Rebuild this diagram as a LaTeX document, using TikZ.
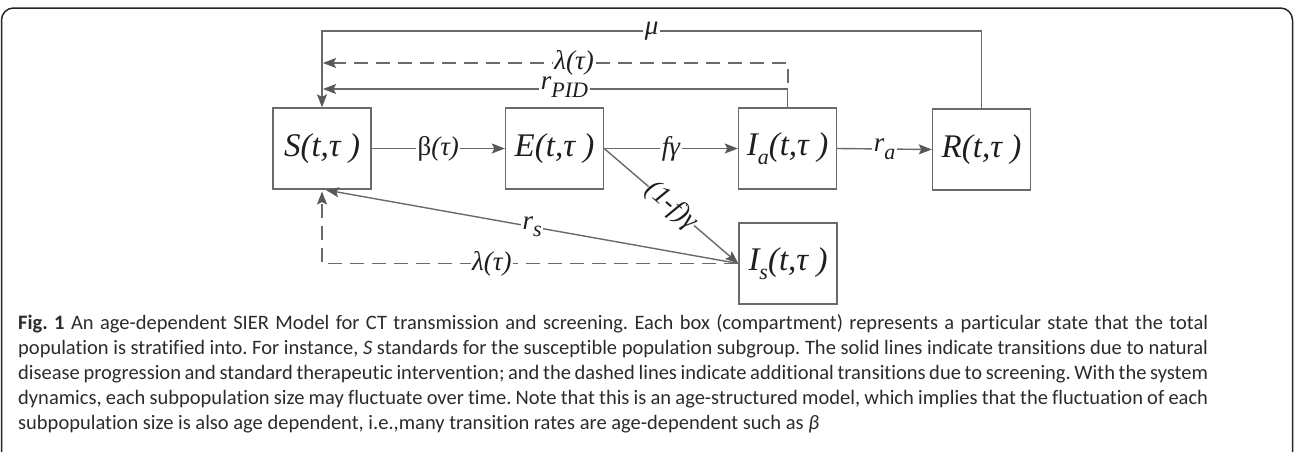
\documentclass[tikz,border=0pt]{standalone}
\usepackage{fontspec}
\setmainfont{Liberation Serif}
\newfontfamily\tms{Liberation Serif}
\newfontfamily\capfont[Ligatures=NoCommon]{Carlito}
\usetikzlibrary{arrows.meta}
\definecolor{lc}{HTML}{6A6A6A}
\definecolor{ac}{HTML}{585858}
\definecolor{tc}{HTML}{1E1E1E}
\definecolor{cc}{HTML}{2B2B2B}
\newcommand{\subx}[1]{\raisebox{-0.28em}{\fontsize{22}{22}\selectfont #1}}
\frenchspacing
\begin{document}
\begin{tikzpicture}[x=1pt,y=-1pt,
  box/.style={draw=lc, line width=1.4pt, minimum width=98pt, minimum height=81pt,
    inner sep=0pt, font=\tms\fontsize{33}{33}\selectfont\itshape, text=tc},
  conn/.style={draw=lc, line width=1.4pt, -{Stealth[length=13pt,width=10pt,inset=2.5pt,color=ac]}},
  dconn/.style={conn, dash pattern=on 14pt off 8pt},
  lab/.style={fill=white, inner sep=1.5pt, font=\tms\fontsize{27}{27}\selectfont\itshape, text=tc},
  frame/.style={draw=black!85, line width=1.5pt, rounded corners=12pt},
]
\useasboundingbox (0,0) rectangle (1295,451);
% outer frame
\coordinate (fBL) at (1.5,470);
\coordinate (fTL) at (1.5,8);
\coordinate (fTR) at (1292.5,8);
\coordinate (fBR) at (1292.5,470);
\draw[frame] (fBL) -- (fTL) -- (fTR) -- (fBR);

% compartments
\node[box] (S)  at (322,148.5)   {S(t,τ )};
\node[box] (E)  at (554.5,148.5) {E(t,τ )};
\node[box] (Ia) at (787.5,148.5) {I\subx{a}(t,τ )};
\node[box] (R)  at (981.5,149.5) {R(t,τ )};
\node[box] (Is) at (788,263.5)   {I\subx{s}(t,τ )};

% helper coordinates
\coordinate (muTop)  at (322,31);
\coordinate (lamStart) at (788,83);
\coordinate (lamEnd) at (323,63);
\coordinate (pidEnd) at (323,89);
\coordinate (rsEnd)  at (326,190);
\coordinate (lbEnd)  at (322,191.5);

% forward transitions
\draw[conn] (S.east) -- node[lab]{{\upshape β}(τ)} (E.west);
\draw[conn] (E.east) -- node[lab]{fγ} (Ia.west);
\draw[conn] (Ia.east) -- node[lab]{r\subx{a}} (R.west);
\draw[conn] (E.east) -- node[lab, sloped, inner sep=0.5pt]{(1-f)γ} (Is.west);

% returns to S
\draw[conn] (R.north) |- node[lab, pos=0.75]{μ} (muTop) -- (S.north);
\draw[dconn] (lamStart) |- node[lab, pos=0.73]{λ(τ)} (lamEnd);
\draw[conn] (Ia.north) |- node[lab, pos=0.74, yshift=2pt]{r\subx{PID}} (pidEnd);
\draw[conn] (Is.west) -- node[lab]{r\subx{s}} (rsEnd);
\draw[dconn] (Is.west) -| node[lab, pos=0.296]{λ(τ)} (lbEnd);

% caption
\node[anchor=north west, inner sep=0pt, text width=1190pt, align=justify, text=cc,
      font=\capfont\fontsize{20.5}{25}\selectfont] (cap) at (18,314)
{\textbf{Fig. 1} An age-dependent SIER Model for CT transmission and screening. Each box (compartment) represents a particular state that the total\linebreak
population is stratified into. For instance, \textit{S} standards for the susceptible population subgroup. The solid lines indicate transitions due to natural\linebreak
disease progression and standard therapeutic intervention; and the dashed lines indicate additional transitions due to screening. With the system\linebreak
dynamics, each subpopulation size may fluctuate over time. Note that this is an age-structured model, which implies that the fluctuation of each\linebreak
subpopulation size is also age dependent, i.e.,many transition rates are age-dependent such as \textit{β}\par};
\end{tikzpicture}
\end{document}
